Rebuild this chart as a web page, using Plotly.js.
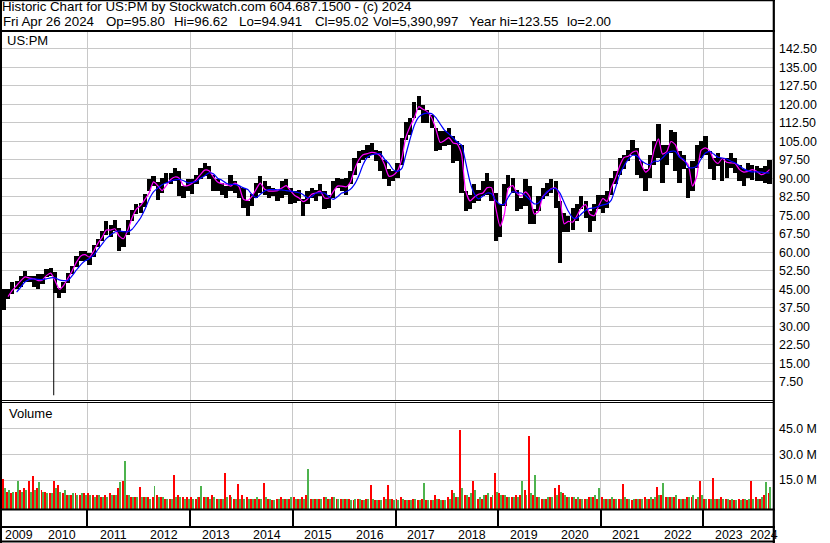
<!DOCTYPE html>
<html><head><meta charset="utf-8">
<script src="https://cdn.plot.ly/plotly-3.0.1.min.js"></script>
<style>html,body{margin:0;padding:0;background:#fff}#chart{width:830px;height:543px}</style>
</head><body><div id="chart"></div>
<script>
// ---------- data: monthly high / low, moving averages and volume, May 2009 .. Apr 2024 ----------
const startYear = 2009, startMonth = 5;
const priceHigh = [
  45, 45, 48, 48.5, 50.5, 52.3, 50.5, 50.5,
  51.2, 51, 53, 53.7, 52, 45.6, 48.1, 51.5, 54.5, 58.5, 60.5, 60.5,
  59.5, 63, 65.5, 68.5, 72.7, 71, 73, 70, 68.5, 73, 77, 79.5,
  80, 83.5, 89.5, 91, 88.5, 90, 92, 92, 94, 93, 87, 89.5,
  89.5, 91.5, 94.2, 96.2, 94.9, 91.5, 89.5, 88, 86.8, 91.5, 88.8, 86.8,
  86.1, 80.7, 83.5, 88, 91, 88.8, 86.8, 86.1, 85.4, 88.8, 89.5, 86.1,
  84.8, 85.4, 81.4, 84.8, 86.1, 85.4, 87.5, 84.8, 83.4, 88.8, 90.1, 89.5,
  90.1, 92.9, 98.2, 100.9, 101.6, 103.6, 104.3, 101.6, 101, 97.5, 93.6, 92.9,
  96.2, 106.3, 113, 114.4, 121.1, 123.3, 119.7, 117.7, 115.7, 110.3, 109, 109,
  110.3, 107, 105, 103.6, 84.7, 83.4, 87.5, 85.4, 88.8, 92.2, 88.8, 84,
  79.4, 87.5, 91.5, 90.2, 85.4, 82.1, 89.5, 86.8, 77.4, 82.8, 86.1, 88.1,
  89.5, 88.8, 80.7, 76, 74.7, 78, 79.4, 82.8, 80.7, 76.7, 79.4, 83.4,
  83.4, 84.8, 90.1, 92.8, 98.2, 99.6, 101.6, 105.6, 102.2, 96.9, 93.6, 99.6,
  104.9, 111.9, 103.6, 103.6, 109.6, 108.9, 100.9, 99.6, 94.2, 96.9, 103.6, 104.9,
  107.2, 100.9, 98.2, 100.2, 98.2, 98.2, 100.2, 98.2, 95.5, 93.6, 96.2, 95.5,
  94.9, 94.2, 94.9, 97.5
];
const priceLow = [
  36.5, 41, 43, 45, 46, 48, 48, 46,
  45, 47, 50, 50.5, 43.3, 41.5, 43.4, 47.5, 51, 54, 56.5, 56.5,
  55, 58, 62, 64.6, 67, 66, 68.5, 60.5, 62, 67, 72.5, 75.5,
  76, 78.5, 84.8, 87, 81, 84, 88, 87.5, 89, 83, 82, 84.8,
  83.5, 87.5, 89.5, 90.8, 89.5, 84.8, 84.8, 83.4, 82.1, 84.8, 84.1, 82,
  78, 74.7, 78.7, 82.1, 84.1, 83.4, 82.1, 82.8, 80.7, 82.1, 83.4, 79.4,
  80.1, 80.7, 74.7, 79.4, 82.1, 80.7, 82.8, 77.4, 78.1, 82.1, 86.1, 84.8,
  83.4, 87.5, 91.5, 96.2, 97.5, 98.2, 99.6, 96.9, 93, 89.5, 86.8, 88.8,
  90.2, 95.5, 105.6, 107.6, 114.4, 117.7, 112.4, 112.4, 110.3, 101, 101.6, 103,
  103.6, 96.2, 97, 84.1, 76.7, 77.4, 80.1, 80.7, 82.8, 83.4, 80.7, 64.6,
  66, 78.7, 86.1, 84.1, 76.7, 77.4, 78.7, 71.4, 71.4, 76.7, 81.4, 82.8,
  84.1, 78, 55.8, 68, 68, 69, 72.7, 77.4, 74, 68, 72.7, 77.4,
  76, 78, 83.4, 87.5, 91.5, 93.6, 96.9, 99.6, 91.5, 90.1, 84.8, 90.1,
  95.5, 98.2, 88.1, 95.5, 100.2, 92.9, 88.1, 93.6, 82.1, 84.8, 94.2, 98.2,
  99.6, 93.6, 89.4, 94.9, 88.8, 90.1, 94.2, 92.2, 88.8, 86.8, 90.1, 89.4,
  88.8, 88.8, 88.1, 87.5
];
const maShort = [
  null, 42, 44.5, 46.5, 48.5, 50, 49.5, 49.3,
  48.5, 48.8, 50.5, 51.5, 48.5, 45, 46.5, 49.5, 52.5, 56, 58.5, 59,
  58, 60.5, 63.5, 66, 69, 69, 69.5, 66.5, 65.5, 69, 74, 77.5,
  79, 81.5, 84, 88.5, 87, 85, 87, 89.5, 90.5, 90, 87, 87,
  88, 89.5, 91.5, 93.3, 93, 90.5, 88.5, 87.8, 87.5, 86.8, 88, 86.5,
  81.5, 81, 82.5, 85.5, 88, 85.5, 84.8, 84.8, 85, 86, 87, 85,
  83, 82, 80.5, 81.5, 83.5, 84, 84.8, 82, 82, 84.5, 86.8, 86.8,
  86.5, 88.5, 93.5, 97.5, 99.5, 100, 100.5, 100.2, 99, 95.5, 90.8, 91.2,
  93, 98, 106.5, 111, 114.5, 119, 118, 117, 114.5, 110, 104.5, 105.3,
  106.5, 104.3, 104, 100, 85, 80.8, 82.3, 83.5, 84, 86.2, 86.2, 78,
  70.5, 75.5, 86, 87, 84, 82.8, 84.5, 82.4, 75.5, 76.5, 82.5, 84.3,
  85.8, 86, 82.5, 71.5, 72.5, 72.2, 74.8, 78, 79.3, 75.4, 74.8, 78.5,
  81.8, 80.6, 86, 90, 95, 98.4, 98.9, 100.5, 101, 95.8, 92.5, 94,
  101.5, 106, 99.8, 100.8, 104.9, 103.6, 98.8, 97.2, 95.5, 86.8, 91, 101.3,
  102.3, 101, 97.5, 96, 98, 96.5, 96.2, 96, 93.5, 92.5, 92.8, 93.5,
  92.8, 91.5, 92, 93.5
];
const maLong = [
  null, null, null, 43.8, 46, 48, 49, 49.2,
  49, 48.9, 49.2, 49.6, 49.6, 48.8, 48.5, 48.5, 50.5, 52.8, 55, 56.5,
  57.5, 58.8, 61, 63.3, 65.5, 67, 68.2, 68.6, 68.3, 68.3, 69.3, 71.5,
  74, 77.5, 81.5, 84.5, 86, 87.4, 88.1, 88.8, 89.3, 89.5, 89, 88.1,
  88.3, 88.8, 90, 91, 92.2, 91.8, 90, 89.2, 88, 87.5, 87.5, 87,
  86.1, 85.4, 83.5, 82.1, 83.5, 84.8, 85.4, 85.4, 85.3, 85.3, 85, 84.8,
  84.5, 84.1, 83.4, 82.1, 82.5, 84, 84.1, 84, 82.5, 81.4, 82.5, 84,
  84.5, 85.5, 87.5, 91, 95.5, 98.5, 99.5, 99.8, 100, 97.7, 96, 93.5,
  92.8, 94, 99.5, 106, 111.5, 114.8, 116, 116.4, 116.2, 114.6, 112, 109.5,
  108, 106.3, 104.7, 103.5, 96.5, 88.5, 83.8, 81.6, 82.8, 84, 83.7, 81,
  79.4, 79.6, 82.4, 84.6, 84.1, 84, 83, 81.2, 79.6, 80, 82.1, 84.5,
  85.6, 85.8, 84.1, 80.2, 76.6, 74, 73.8, 75.5, 77, 77.8, 78, 78.6,
  79.2, 79.6, 81, 86, 91.5, 95, 97.6, 99.3, 99, 97.2, 96, 95.5,
  96.9, 96.9, 98.2, 100, 100.9, 100.9, 98.5, 97.6, 94.5, 94.2, 94.9, 97.8,
  100.2, 100.9, 99.8, 98.5, 98.2, 97.8, 96.9, 96.2, 95, 93.8, 93, 92.6,
  92.6, 92.5, 92.2, 92.2
];
// volume, millions of shares: down-day (red) and up-day (green) levels per month
const volDown = [
  17.5, 10, 9, 10, 11, 12, 16, 19.3,
  12, 11, 10, 9, 16, 14, 9, 8, 8, 9, 8, 9,
  9, 8, 8, 7, 8, 9, 8, 12, 16, 8, 7, 7,
  13, 7, 7, 7, 8, 7, 6, 6, 19.7, 8, 7, 7,
  7, 6, 7, 7, 7, 8, 6, 6, 20.9, 8, 6, 14.5,
  8, 7, 6, 6, 6, 15, 6, 5, 6, 7, 6, 6,
  7, 6, 7, 8, 6, 6, 6, 7, 6, 7, 6, 6,
  6, 6, 5, 6, 5, 6, 14, 5, 5, 7, 14, 6,
  6, 7, 5, 5, 6, 5, 6, 5, 5, 8, 6, 5,
  7, 10.8, 7, 46, 8, 7, 16.5, 6, 6, 8, 7, 21,
  9, 8, 7, 7, 8, 8, 11.2, 42.2, 8, 7, 6, 6,
  7, 12, 14, 9, 7, 7, 6, 6, 6, 7, 7, 6,
  7, 6, 6, 6, 6, 14.5, 6, 5, 6, 6, 7, 6,
  6, 13, 8, 7, 7, 7, 6, 6, 7, 7, 6, 16,
  6, 6, 18, 6, 7, 6, 5, 5, 6, 6, 5, 16.5,
  7, 6, 8, 9
];
const volUp = [
  12, 11, 10, 16.5, 10, 11, 10, 11,
  15.6, 10, 9, 9, 12, 10, 11, 8, 9, 8, 9, 8,
  8, 7, 8, 7, 7, 8, 8, 15.6, 27.7, 8, 7, 7,
  7, 7, 6, 13.2, 7, 7, 6, 6, 7, 7, 6, 6,
  6, 7, 13.5, 7, 6, 7, 6, 6, 7, 7, 6, 6,
  6, 6, 6, 7, 6, 7, 6, 5, 6, 6, 6, 7,
  6, 6, 6, 23.5, 6, 6, 6, 7, 6, 7, 6, 6,
  6, 5, 6, 6, 5, 6, 6, 5, 5, 6, 6, 5,
  5, 6, 5, 5, 6, 5, 15, 5, 5, 6, 5, 5,
  6, 9, 7, 12, 8, 9, 11, 7, 8, 9, 8, 10,
  8, 8, 7, 7, 7, 16, 8, 9, 20, 7, 6, 7,
  7, 8, 10, 8, 7, 7, 7, 6, 6, 7, 8, 12,
  6, 6, 7, 6, 6, 7, 6, 6, 6, 6, 6, 7,
  7, 8, 15, 7, 7, 8, 6, 6, 7, 8, 7, 8,
  6, 6, 6, 6, 6, 6, 6, 5, 5, 6, 6, 6,
  6, 7, 15.4, 12.8
];
const flashCrashDate = '2010-05-06', flashCrashLow = 2.00, flashCrashTop = 44.5;
const priceTicks = [7.5, 15, 22.5, 30, 37.5, 45, 52.5, 60, 67.5, 75, 82.5, 90, 97.5, 105, 112.5, 120, 127.5, 135, 142.5];
const volTicks = [15, 30, 45];
const volTickText = ['15.0 M', '30.0 M', '45.0 M'];
const years = [2009, 2010, 2011, 2012, 2013, 2014, 2015, 2016, 2017, 2018, 2019, 2020, 2021, 2022, 2023, 2024];
const symbol = 'US:PM';
const headerTitle = 'Historic Chart for US:PM by Stockwatch.com 604.687.1500 - (c) 2024';
const lastDate = 'Fri Apr 26 2024', lastOpen = '95.80', lastHigh = '96.62', lastLow = '94.941', lastClose = '95.02', lastVol = '5,390,997', yearHi = '123.55', yearLo = '2.00';

// ---------- derived ----------
const months = priceHigh.map((_, k) => {
  const m0 = startMonth - 1 + k;
  const y = startYear + Math.floor(m0 / 12);
  const m = (m0 % 12) + 1;
  return y + '-' + String(m).padStart(2, '0') + '-15';
});
const xRange = ['2009-05-03', '2024-05-10'];
const DAY = 86400000;
const L = 2, R = 773, T = 31, B = 509;           // plot frame in pixels
const px = v => (v - L) / (R - L);
const py = v => (B - v) / (B - T);
const FONT = 'Liberation Sans, Arial, sans-serif';
const volBase = -1.83;                           // bars start at the panel floor

const traces = [
  { type: 'bar', x: months, y: priceHigh.map((h, i) => h - priceLow[i]), base: priceLow,
    width: 30 * DAY, marker: { color: '#000', line: { width: 0 } }, xaxis: 'x', yaxis: 'y', hoverinfo: 'skip' },
  { type: 'scatter', mode: 'lines', x: [flashCrashDate, flashCrashDate], y: [flashCrashLow, flashCrashTop],
    line: { color: '#000', width: 1 }, xaxis: 'x', yaxis: 'y', hoverinfo: 'skip' },
  { type: 'scatter', mode: 'lines', x: months, y: maShort, line: { color: '#ff00ff', width: 1.2, shape: 'spline', smoothing: 0.6 },
    xaxis: 'x', yaxis: 'y', hoverinfo: 'skip' },
  { type: 'scatter', mode: 'lines', x: months, y: maLong, line: { color: '#0000ff', width: 1.2, shape: 'spline', smoothing: 0.6 },
    xaxis: 'x', yaxis: 'y', hoverinfo: 'skip' },
  { type: 'bar', x: months, y: volDown, base: volBase, marker: { color: '#ff0000', line: { width: 0 } }, xaxis: 'x', yaxis: 'y2', hoverinfo: 'skip' },
  { type: 'bar', x: months, y: volUp, base: volBase, marker: { color: '#4db34d', line: { width: 0 } }, xaxis: 'x', yaxis: 'y2', hoverinfo: 'skip' }
];

const r0 = Date.parse(xRange[0]), r1 = Date.parse(xRange[1]);
const annotations = years.map(yr => {
  const a = Math.max(Date.UTC(yr, 0, 1), r0), b = Math.min(Date.UTC(yr + 1, 0, 1), r1);
  return { x: new Date((a + b) / 2).toISOString().slice(0, 10), xref: 'x', y: py(535), yref: 'paper',
    text: String(yr), showarrow: false, xanchor: 'center', yanchor: 'middle',
    font: { family: FONT, size: 12.4, color: '#000' }, borderpad: 0, borderwidth: 0 };
});
const txt = (text, x, y, size) => ({ x: px(x), xref: 'paper', y: py(y), yref: 'paper', text: text, showarrow: false,
  xanchor: 'left', yanchor: 'middle', font: { family: FONT, size: size, color: '#000' }, borderpad: 0, borderwidth: 0 });
annotations.push(txt(headerTitle, 2, 6.5, 13.3));
const line2 = [[lastDate, 2.5], ['Op=' + lastOpen, 105.5], ['Hi=' + lastHigh, 173.5], ['Lo=' + lastLow, 238.5],
  ['Cl=' + lastClose, 314.5], ['Vol=' + lastVol, 372.5], ['Year hi=' + yearHi, 468.5], ['lo=' + yearLo, 567]];
line2.forEach(([t, x]) => annotations.push(txt(t, x, 21, 13.3)));
annotations.push(txt(symbol, 6.5, 40.5, 13));
annotations.push(txt('Volume', 8.5, 413.3, 13));

const hline = (y, x0, x1, w) => ({ type: 'line', xref: 'paper', yref: 'paper', x0: px(x0), x1: px(x1), y0: py(y), y1: py(y),
  line: { color: '#000', width: w } });
const vline = (x, y0, y1, w) => ({ type: 'line', xref: 'paper', yref: 'paper', x0: px(x), x1: px(x), y0: py(y0), y1: py(y1),
  line: { color: '#000', width: w } });
const shapes = [
  hline(0.5, 0, 775, 1.5), hline(31, 0, 775, 2), hline(400.5, 0, 774, 1), hline(402.5, 0, 774, 1),
  hline(509.5, 0, 775, 2), hline(527, 0, 775, 2), hline(541.5, 0, 775, 2),
  vline(1, 0, 543, 2), vline(773.8, 0, 543, 2.2)
];

const layout = {
  width: 830, height: 543,
  margin: { l: L, r: 830 - R, t: T, b: 543 - B, pad: 0 },
  paper_bgcolor: '#fff', plot_bgcolor: '#fff',
  showlegend: false, hovermode: false,
  barmode: 'group', bargap: 0, bargroupgap: 0,
  font: { family: FONT, size: 12.4, color: '#000' },
  xaxis: {
    type: 'date', range: xRange, anchor: 'y2', showgrid: false, zeroline: false,
    showticklabels: false, ticks: '', showline: false,
    minor: { tick0: '2010-01-01', dtick: 'M12', showgrid: true, gridcolor: '#c8c8c8', gridwidth: 1,
      ticks: 'outside', ticklen: 18, tickwidth: 2, tickcolor: '#000' }
  },
  yaxis: {
    domain: [py(400.2), 1], range: [0, 149.7], side: 'right', anchor: 'x',
    tickmode: 'array', tickvals: priceTicks, tickformat: '.2f', ticks: '', ticklabelstandoff: 5,
    showgrid: true, gridcolor: '#c8c8c8', gridwidth: 1, zeroline: false, showline: false,
    tickfont: { family: FONT, size: 12.4, color: '#000' }
  },
  yaxis2: {
    domain: [0, py(402)], range: [-1.83, 60.27], side: 'right', anchor: 'x',
    tickmode: 'array', tickvals: volTicks, ticktext: volTickText, ticks: '', ticklabelstandoff: 5,
    showgrid: true, gridcolor: '#c8c8c8', gridwidth: 1, zeroline: false, showline: false,
    tickfont: { family: FONT, size: 12.4, color: '#000' }
  },
  annotations: annotations,
  shapes: shapes
};

Plotly.newPlot('chart', traces, layout, { staticPlot: true, displayModeBar: false });
</script>
</body></html>
